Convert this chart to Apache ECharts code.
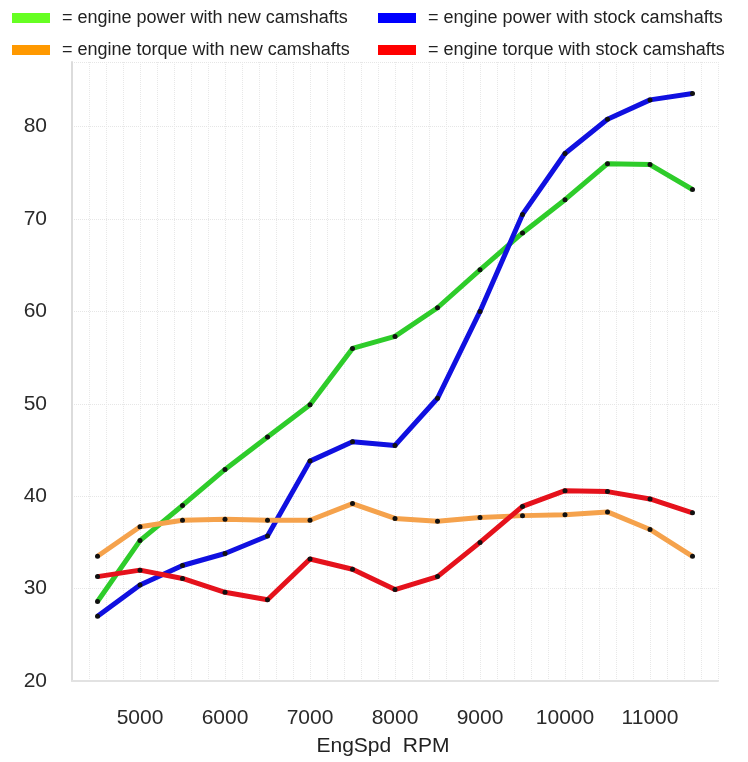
<!DOCTYPE html>
<html>
<head>
<meta charset="utf-8">
<script src="https://cdn.jsdelivr.net/npm/echarts@6/dist/echarts.min.js"></script>
<style>
  html, body { margin: 0; padding: 0; background: #fff; }
  #chart { width: 748px; height: 762px; }
</style>
</head>
<body>
<div id="chart"></div>
<script>
// engine speed in RPM
var rpm = [4500, 5000, 5500, 6000, 6500, 7000, 7500, 8000, 8500, 9000, 9500, 10000, 10500, 11000, 11500];
var powerNew = [28.6, 35.2, 39.0, 42.9, 46.4, 49.9, 56.0, 57.3, 60.4, 64.5, 68.5, 72.1, 76.0, 75.9, 73.2];
var powerStock = [27.0, 30.4, 32.5, 33.8, 35.7, 43.8, 45.9, 45.5, 50.6, 60.0, 70.5, 77.1, 80.8, 82.9, 83.6];
var torqueNew = [33.5, 36.7, 37.4, 37.5, 37.4, 37.4, 39.2, 37.6, 37.3, 37.7, 37.9, 38.0, 38.3, 36.4, 33.5];
var torqueStock = [31.3, 32.0, 31.1, 29.6, 28.8, 33.2, 32.1, 29.9, 31.3, 35.0, 38.9, 40.6, 40.5, 39.7, 38.2];

var names = [
  "engine power with new camshafts",
  "engine power with stock camshafts",
  "engine torque with new camshafts",
  "engine torque with stock camshafts"
];
var lineColors = ["#2ecc2a", "#1010e0", "#f5a24c", "#e5121c"];
var swatchColors = ["#66ff22", "#0000ff", "#ff9900", "#ff0000"];

var chartDom = document.getElementById("chart");
var myChart = echarts.init(chartDom);

function pair(values) {
  return rpm.map(function (r, i) { return [r, values[i]]; });
}

var legendPos = [
  { left: 7, top: 4 },
  { left: 373, top: 4 },
  { left: 7, top: 36 },
  { left: 373, top: 36 }
];

var legends = names.map(function (n, i) {
  return {
    left: legendPos[i].left,
    top: legendPos[i].top,
    data: [{ name: n, icon: "rect", itemStyle: { color: swatchColors[i] } }],
    itemWidth: 38,
    itemHeight: 10,
    itemGap: 12,
    selectedMode: false,
    formatter: "= {name}",
    textStyle: {
      fontFamily: "Liberation Sans",
      fontSize: 18,
      color: "#222",
      padding: [0, 0, 0, 7]
    }
  };
});

var allSeries = [powerNew, powerStock, torqueNew, torqueStock].map(function (vals, i) {
  return {
    name: names[i],
    type: "line",
    data: pair(vals),
    color: lineColors[i],
    symbol: "circle",
    symbolSize: 5,
    itemStyle: { color: "#111" },
    lineStyle: { color: lineColors[i], width: 5 },
    z: 2 + i
  };
});

var option = {
  animation: false,
  backgroundColor: "#fff",
  legend: legends,
  grid: { left: 72, right: 30, top: 62, bottom: 78 },
  xAxis: {
    type: "value",
    min: 4200,
    max: 11800,
    interval: 200,
    name: "EngSpd  RPM",
    nameLocation: "middle",
    nameGap: 55,
    nameTextStyle: { fontFamily: "Liberation Sans", fontSize: 21, color: "#222", padding: [0, 24, 0, 0] },
    axisLine: { show: true, lineStyle: { color: "#e2e2e2", width: 2 } },
    axisTick: { show: false },
    axisLabel: {
      fontFamily: "Liberation Sans",
      fontSize: 21,
      color: "#2a2a2a",
      margin: 27,
      showMinLabel: false,
      showMaxLabel: false,
      formatter: function (v) { return v % 1000 === 0 ? String(v) : ""; }
    },
    splitLine: { show: true, lineStyle: { color: "#e8e8e8", type: "dotted" } }
  },
  yAxis: {
    type: "value",
    min: 20,
    max: 87,
    interval: 10,
    axisLine: { show: true, lineStyle: { color: "#dcdcdc", width: 2 } },
    axisTick: { show: false },
    axisLabel: {
      fontFamily: "Liberation Sans",
      fontSize: 21,
      color: "#2a2a2a",
      margin: 25,
      showMaxLabel: false
    },
    splitLine: { show: true, lineStyle: { color: "#e6e6e6", type: "dotted" } }
  },
  series: allSeries
};

option && myChart.setOption(option);
</script>
</body>
</html>
